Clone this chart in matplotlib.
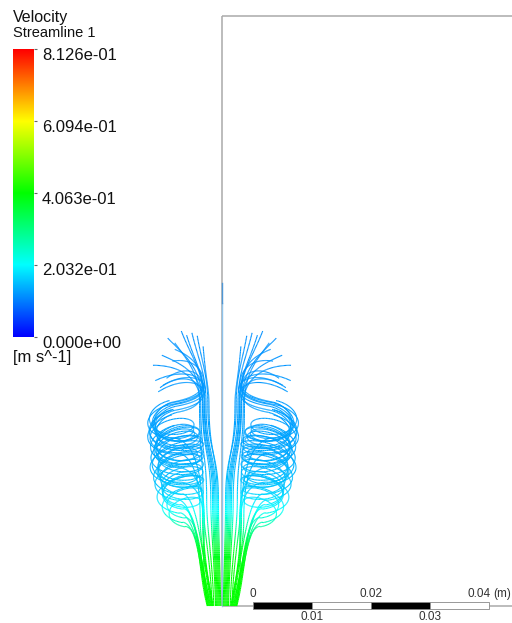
import numpy as np
import matplotlib
matplotlib.use("Agg")
import matplotlib.pyplot as plt
from matplotlib.colors import LinearSegmentedColormap, Normalize
from matplotlib.collections import LineCollection
from matplotlib.patches import Rectangle

plt.rcParams["font.family"] = ["Liberation Sans", "DejaVu Sans"]

# ---------------- legend ----------------
vel_min, vel_max = 0.0, 0.8126
legend_ticks = [0.0, 0.2032, 0.4063, 0.6094, 0.8126]
legend_labels = ["0.000e+00", "2.032e-01", "4.063e-01", "6.094e-01", "8.126e-01"]
legend_title = "Velocity"
legend_sub = "Streamline 1"
legend_unit = "[m s^-1]"
rainbow = ["#0000ff", "#00ffff", "#00ff00", "#ffff00", "#ff0000"]

# ---------------- geometry (mm) ----------------
domain_width = 50.0
domain_height = 100.0
scale_ticks_m = [0.0, 0.01, 0.02, 0.03, 0.04]
scale_offset = 5.25          # start of scale bar (mm from axis)

# speed along the jet as a function of height (mm -> m/s)
speed_z = [0, 6, 10, 13, 16, 20, 26, 40, 60]
speed_v = [0.41, 0.405, 0.37, 0.29, 0.21, 0.16, 0.135, 0.12, 0.11]

# recirculation coil: centre radius, half width, half height vs height (mm)
coil_zref = [13, 17, 22, 27, 31, 34]
coil_rc = [5.8, 6.5, 7.2, 7.5, 8.1, 8.6]
coil_a = [2.5, 3.2, 3.9, 4.1, 3.7, 3.2]
coil_b = [1.3, 1.6, 1.9, 2.0, 2.1, 2.0]
coil_tilt = -0.08

# streamlines that rise along the spine and fan out at the top
spine_inlet_r = [0.2, 0.5, 0.8, 1.1, 1.4, 0.35, 0.65, 0.95, 1.7]
spine_r = [2.4, 2.7, 3.0, 3.3, 3.6, 2.2, 2.9, 3.2, 3.8]
spine_mid_r = [0.6, 1.0, 1.4, 1.9, 2.6, 0.8, 1.2, 1.6, 3.2]
spine_tip_r = [4.2, 5.1, 6.9, 9.2, 11.7, 3.2, 6.0, 10.2, 8.0]
spine_tip_z = [45.8, 46.3, 46.6, 45.4, 40.8, 44.0, 45.9, 42.5, 44.6]
spine_hook = [-5, -5, -5, -3, 0, -6, -5, -1.5, -3]

# streamlines caught in the recirculation coil
coil_inlet_r = [2.5, 2.3, 2.1, 1.9, 2.4, 2.2, 2.0, 1.8, 1.6, 2.45, 1.5, 1.7]
coil_entry_z = [13.5, 14.2, 15.0, 15.8, 16.5, 17.2, 18.0, 19.0, 21.0, 23.5, 26.0, 28.5]
coil_turns = [4.5, 2.5, 4.5, 2.5, 3.5, 3.5, 2.5, 2.5, 1.5, 1.5, 1.5, 0.5]
coil_pitch = [3.6, 5.2, 3.4, 5.2, 4.0, 3.9, 4.6, 4.0, 5.6, 4.6, 3.2, 3.0]
coil_scale = [0.9, 1.05, 0.95, 1.1, 1.0, 0.85, 1.05, 0.95, 1.1, 0.9, 1.0, 1.05]
coil_dr = [0.0, 0.3, -0.3, 0.5, -0.2, 0.2, 0.4, -0.4, 0.1, 0.4, 0.5, 0.6]
coil_spine_r = [3.0, 3.3, 2.8, 3.6, 3.1, 3.4, 2.9, 3.5, 3.2, 3.0, 3.7, 3.3]
coil_tip_r = [10.8, np.nan, 10.0, np.nan, 11.3, 9.4, np.nan, 10.5, np.nan, 8.4, np.nan, 8.0]
coil_tip_z = [36.3, np.nan, 37.4, np.nan, 38.2, 38.6, np.nan, 37.0, np.nan, 41.5, np.nan, 43.5]
coil_hook = [2.5, 0, 2.2, 0, 2.0, 2.2, 0, 2.6, 0, 0.5, 0, -1.0]

# right-hand side is the mirror with a slightly wider coil
side_sign = [-1, 1]
side_scale = [1.0, 1.03]

# centreline streamline
axis_line_z = [0.0, 51.4, 54.7]
axis_line_colors = ["#8ec2ea", "#4f97d6"]


def bez(p0, p1, p2, p3, n=40):
    t = np.linspace(0, 1, n)[:, None]
    p0, p1, p2, p3 = map(np.asarray, (p0, p1, p2, p3))
    return ((1 - t) ** 3) * p0 + 3 * ((1 - t) ** 2) * t * p1 + 3 * (1 - t) * t ** 2 * p2 + t ** 3 * p3


def blade(r_s, z_s, r_t, z_t, h):
    return bez((r_s, z_s), (r_s, z_s + 0.75 * (z_t + h - z_s)),
               (r_s + 0.5 * (r_t - r_s), z_t + h), (r_t, z_t), 60)


def spine_path(i):
    r0, rm, rs = spine_inlet_r[i], spine_mid_r[i], spine_r[i]
    p = [bez((r0, 0), (r0 + 0.2, 8), (rm, 13), (rm, 18), 50)]
    p.append(bez((rm, 18), (rm, 26), (rs, 26), (rs, 34), 50)[1:])
    p.append(blade(rs, 34, spine_tip_r[i], spine_tip_z[i], spine_hook[i])[1:])
    return np.vstack(p)


def coil_path(i, sc):
    r0, z0, rs = coil_inlet_r[i], coil_entry_z[i], coil_spine_r[i]
    b0 = np.interp(z0, coil_zref, coil_b)
    rc0 = (np.interp(z0 + b0, coil_zref, coil_rc) + coil_dr[i]) * sc
    if z0 > 19:
        parts = [bez((r0, 0), (r0 + 1.0, 6), (rs, 10), (rs, 15))]
        parts.append(bez((rs, 15), (rs, z0 - 1.5), (rc0 - 2.0, z0), (rc0, z0))[1:])
    else:
        parts = [bez((r0, 0), (r0 + 1.6, 0.45 * z0), (rc0 - 2.6, z0 - 0.8), (rc0, z0), 60)]
    turns = coil_turns[i]
    psi = np.linspace(-np.pi / 2, -np.pi / 2 + 2 * np.pi * turns, int(90 * turns) + 2)
    zc = z0 + b0 + coil_pitch[i] * (psi + np.pi / 2) / (2 * np.pi)
    rc = (np.interp(zc, coil_zref, coil_rc) + coil_dr[i]) * sc
    a = np.interp(zc, coil_zref, coil_a) * coil_scale[i] * sc
    b = np.interp(zc, coil_zref, coil_b)
    r = rc + a * np.cos(psi)
    z = zc + b * np.sin(psi) + coil_tilt * (r - rc)
    parts.append(np.column_stack([r, z])[1:])
    if not np.isnan(coil_tip_r[i]):
        rt, zt = r[-1], z[-1]
        ae = a[-1]
        e1 = bez((rt, zt), (rt - 0.45 * ae, zt + 0.3), (rs + 0.3, zt + 0.9), (rs, zt + 2.8))
        parts.append(e1[1:])
        parts.append(blade(rs, zt + 2.8, coil_tip_r[i] * sc, coil_tip_z[i], coil_hook[i])[1:])
    return np.vstack(parts)


cmap = LinearSegmentedColormap.from_list("ansys_rainbow", rainbow)
norm = Normalize(vel_min, vel_max)

S = 5.9  # px per mm
fig = plt.figure(figsize=(5.12, 6.23), dpi=100)
ax = fig.add_axes([0, 0, 1, 1])
ax.set_xlim(-222 / S, 290 / S)
ax.set_ylim(-17 / S, 606 / S)
ax.axis("off")

# domain outline
dom_kw = dict(color="#aaaaaa", lw=1.1, solid_capstyle="butt", zorder=1)
ax.plot([0, 0], [0, domain_height], **dom_kw)
ax.plot([0, domain_width], [domain_height, domain_height], **dom_kw)
ax.plot([0, domain_width], [0, 0], **dom_kw)

# centreline streamline
for k in range(len(axis_line_colors)):
    ax.plot([0, 0], axis_line_z[k:k + 2], color=axis_line_colors[k], lw=1.0, zorder=2)

segs, vals = [], []
for sgn, sc in zip(side_sign, side_scale):
    paths = [spine_path(i) for i in range(len(spine_r))]
    paths += [coil_path(i, sc) for i in range(len(coil_entry_z))]
    for p in paths:
        xy = np.column_stack([sgn * p[:, 0], p[:, 1]])
        s = np.stack([xy[:-1], xy[1:]], axis=1)
        segs.append(s)
        zm = 0.5 * (xy[:-1, 1] + xy[1:, 1])
        vals.append(np.interp(zm, speed_z, speed_v))
lc = LineCollection(np.concatenate(segs), cmap=cmap, norm=norm, linewidths=0.8, zorder=3)
lc.set_array(np.concatenate(vals))
ax.add_collection(lc)

# scale bar
sb_y0, sb_h = -0.46, 1.1
for k in range(4):
    x0 = scale_offset + scale_ticks_m[k] * 1000
    w = (scale_ticks_m[k + 1] - scale_ticks_m[k]) * 1000
    ax.add_patch(Rectangle((x0, sb_y0), w, sb_h, facecolor="black" if k % 2 == 0 else "white",
                           edgecolor="#888888", lw=0.6, zorder=4))
for k, t in enumerate(scale_ticks_m):
    x = scale_offset + t * 1000
    lab = "0" if t == 0 else f"{t:.2f}"
    if k % 2 == 0:
        dx = -1.7 if k == 4 else 0
        ax.text(x + dx, sb_y0 + sb_h + 0.9, lab, ha="center", va="baseline", fontsize=8.5, color="#333333")
    else:
        ax.text(x, sb_y0 - 1.85, lab, ha="center", va="baseline", fontsize=8.5, color="#333333")
ax.text(scale_offset + 40 + 0.7, sb_y0 + sb_h + 0.9, "(m)", ha="left", va="baseline",
        fontsize=8.5, color="#333333")

# colour legend
H, W = 623.0, 512.0
bar_top, bar_bot = 49, 337
cax = fig.add_axes([13 / W, 1 - bar_bot / H, 21 / W, (bar_bot - bar_top) / H])
grad = np.linspace(vel_min, vel_max, 256)[:, None]
cax.imshow(grad, aspect="auto", cmap=cmap, norm=norm, origin="lower",
           extent=[0, 1, vel_min, vel_max])
cax.set_xticks([])
cax.yaxis.tick_right()
cax.set_yticks(legend_ticks)
cax.set_yticklabels([])
cax.tick_params(axis="y", length=2.5, width=0.8, color="#666666")
for sp in cax.spines.values():
    sp.set_visible(False)
for t, lab in zip(legend_ticks, legend_labels):
    py = bar_bot - (t - vel_min) / (vel_max - vel_min) * (bar_bot - bar_top)
    fig.text(42 / W, 1 - (py + 10.5) / H, lab, fontsize=12, va="baseline", ha="left", color="#111111")
fig.text(13 / W, 1 - 22 / H, legend_title, fontsize=11.5, va="baseline", color="#111111")
fig.text(13 / W, 1 - 37 / H, legend_sub, fontsize=10.5, va="baseline", color="#111111")
fig.text(13 / W, 1 - 362 / H, legend_unit, fontsize=12, va="baseline", color="#111111")

fig.savefig("out.png", dpi=100, facecolor="white")
